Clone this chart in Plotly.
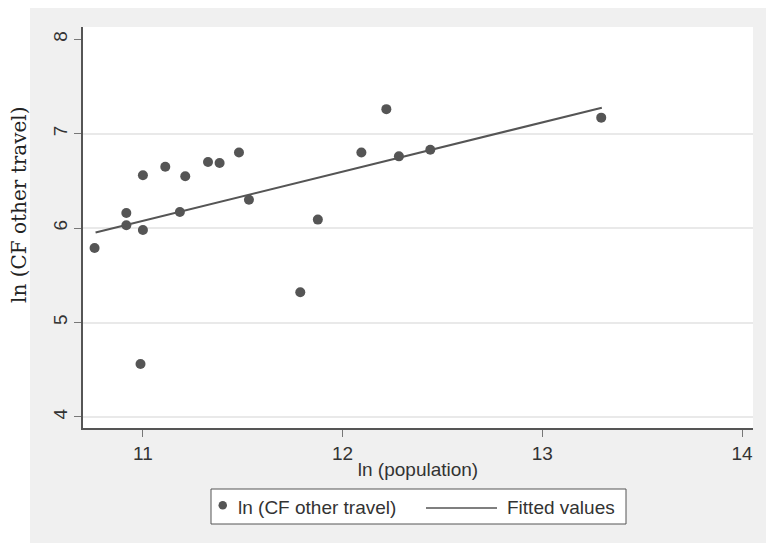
import plotly.graph_objects as go

# Data
ln_population = [10.758, 10.917, 10.917, 11.000, 11.000, 10.988, 11.112, 11.185,
                 11.212, 11.326, 11.384, 11.481, 11.531, 11.788, 11.876, 12.094,
                 12.219, 12.282, 12.439, 13.295]
ln_cf_other_travel = [5.79, 6.16, 6.03, 5.98, 6.56, 4.56, 6.65, 6.17,
                      6.55, 6.70, 6.69, 6.80, 6.30, 5.32, 6.09, 6.80,
                      7.26, 6.76, 6.83, 7.17]
fit_x = [10.763, 13.298]
fit_y = [5.954, 7.275]

x_ticks = [11, 12, 13, 14]
y_ticks = [4, 5, 6, 7, 8]
y_grid = [4, 5, 6, 7]
series_names = ["ln (CF other travel)", "Fitted values"]

W, H = 766, 543
L, R, T, B = 83, 13, 27, 115
pw, ph = W - L - R, H - T - B
y_range = [3.883, 8.13]

def px_x(p):
    return (p - L) / pw

def px_y(p):
    return (H - B - p) / ph

dark = "#555555"
text_col = "#333333"
sans = "Liberation Sans, Arial, sans-serif"

fig = go.Figure()
fig.add_trace(go.Scatter(
    x=ln_population, y=ln_cf_other_travel, mode="markers",
    name=series_names[0], showlegend=False,
    marker=dict(size=10, color=dark, line=dict(width=0)),
))
fig.add_trace(go.Scatter(
    x=fit_x, y=fit_y, mode="lines", name=series_names[1], showlegend=False,
    line=dict(color=dark, width=2),
))

# legend box (drawn as shapes + text annotations)
leg_shapes = [
    dict(type="rect", xref="paper", yref="paper", layer="above",
         x0=px_x(211), x1=px_x(626), y0=px_y(524), y1=px_y(489),
         fillcolor="#ffffff", line=dict(color=dark, width=1)),
    dict(type="circle", xref="paper", yref="paper", layer="above",
         x0=px_x(218.5), x1=px_x(227), y0=px_y(509.5), y1=px_y(501),
         fillcolor=dark, line=dict(width=0)),
    dict(type="line", xref="paper", yref="paper", layer="above",
         x0=px_x(426), x1=px_x(497), y0=px_y(508), y1=px_y(508),
         line=dict(color=dark, width=1.5)),
]
bg_shapes = [
    dict(type="rect", xref="paper", yref="paper", layer="below",
         x0=px_x(-5), x1=px_x(30), y0=px_y(H + 5), y1=px_y(-5),
         fillcolor="#ffffff", line=dict(width=0)),
    dict(type="rect", xref="paper", yref="paper", layer="below",
         x0=px_x(-5), x1=px_x(W + 5), y0=px_y(8), y1=px_y(-5),
         fillcolor="#ffffff", line=dict(width=0)),
]

fig.update_layout(
    width=W, height=H,
    margin=dict(l=L, r=R, t=T, b=B, pad=0),
    paper_bgcolor="#f0f0f0",
    plot_bgcolor="#ffffff",
    font=dict(family=sans, size=19, color=text_col),
    showlegend=False,
    xaxis=dict(
        range=[10.70, 14.055], tickvals=x_ticks, ticktext=[str(v) for v in x_ticks],
        showgrid=False, zeroline=False,
        showline=True, linecolor="#555555", linewidth=1.5,
        ticks="outside", ticklen=7, tickcolor="#777777", tickwidth=1,
        tickfont=dict(family=sans, size=19, color=text_col),
        title=dict(text="ln (population)", standoff=0,
                   font=dict(family=sans, size=19, color=text_col)),
    ),
    yaxis=dict(
        range=y_range, tickvals=y_ticks, ticktext=[str(v) for v in y_ticks],
        showgrid=False, zeroline=False,
        showline=True, linecolor="#555555", linewidth=1.5,
        ticks="outside", ticklen=7, tickcolor="#777777", tickwidth=1,
        tickangle=-90,
        tickfont=dict(family=sans, size=19, color=text_col),
    ),
    yaxis2=dict(
        overlaying="y", range=y_range, tickvals=y_grid,
        showgrid=True, gridcolor="#e9e9e9", gridwidth=1.5, zeroline=False,
        showticklabels=False, ticks="", showline=False,
    ),
    shapes=bg_shapes + leg_shapes,
    annotations=[
        dict(text="ln (CF other travel)", xref="paper", yref="paper",
             x=px_x(19), y=px_y(205), xanchor="center", yanchor="middle",
             textangle=-90, showarrow=False,
             font=dict(family="DejaVu Serif, serif", size=20, color="#222222")),
        dict(text=series_names[0], xref="paper", yref="paper",
             x=px_x(236), y=px_y(507), xanchor="left", yanchor="middle",
             showarrow=False, font=dict(family=sans, size=19, color=text_col)),
        dict(text=series_names[1], xref="paper", yref="paper",
             x=px_x(505), y=px_y(507), xanchor="left", yanchor="middle",
             showarrow=False, font=dict(family=sans, size=19, color=text_col)),
    ],
)
# invisible trace to activate the grid-only overlay axis
fig.add_trace(go.Scatter(x=[None], y=[None], yaxis="y2", showlegend=False,
                         hoverinfo="skip"))

fig.write_html("out.html")
